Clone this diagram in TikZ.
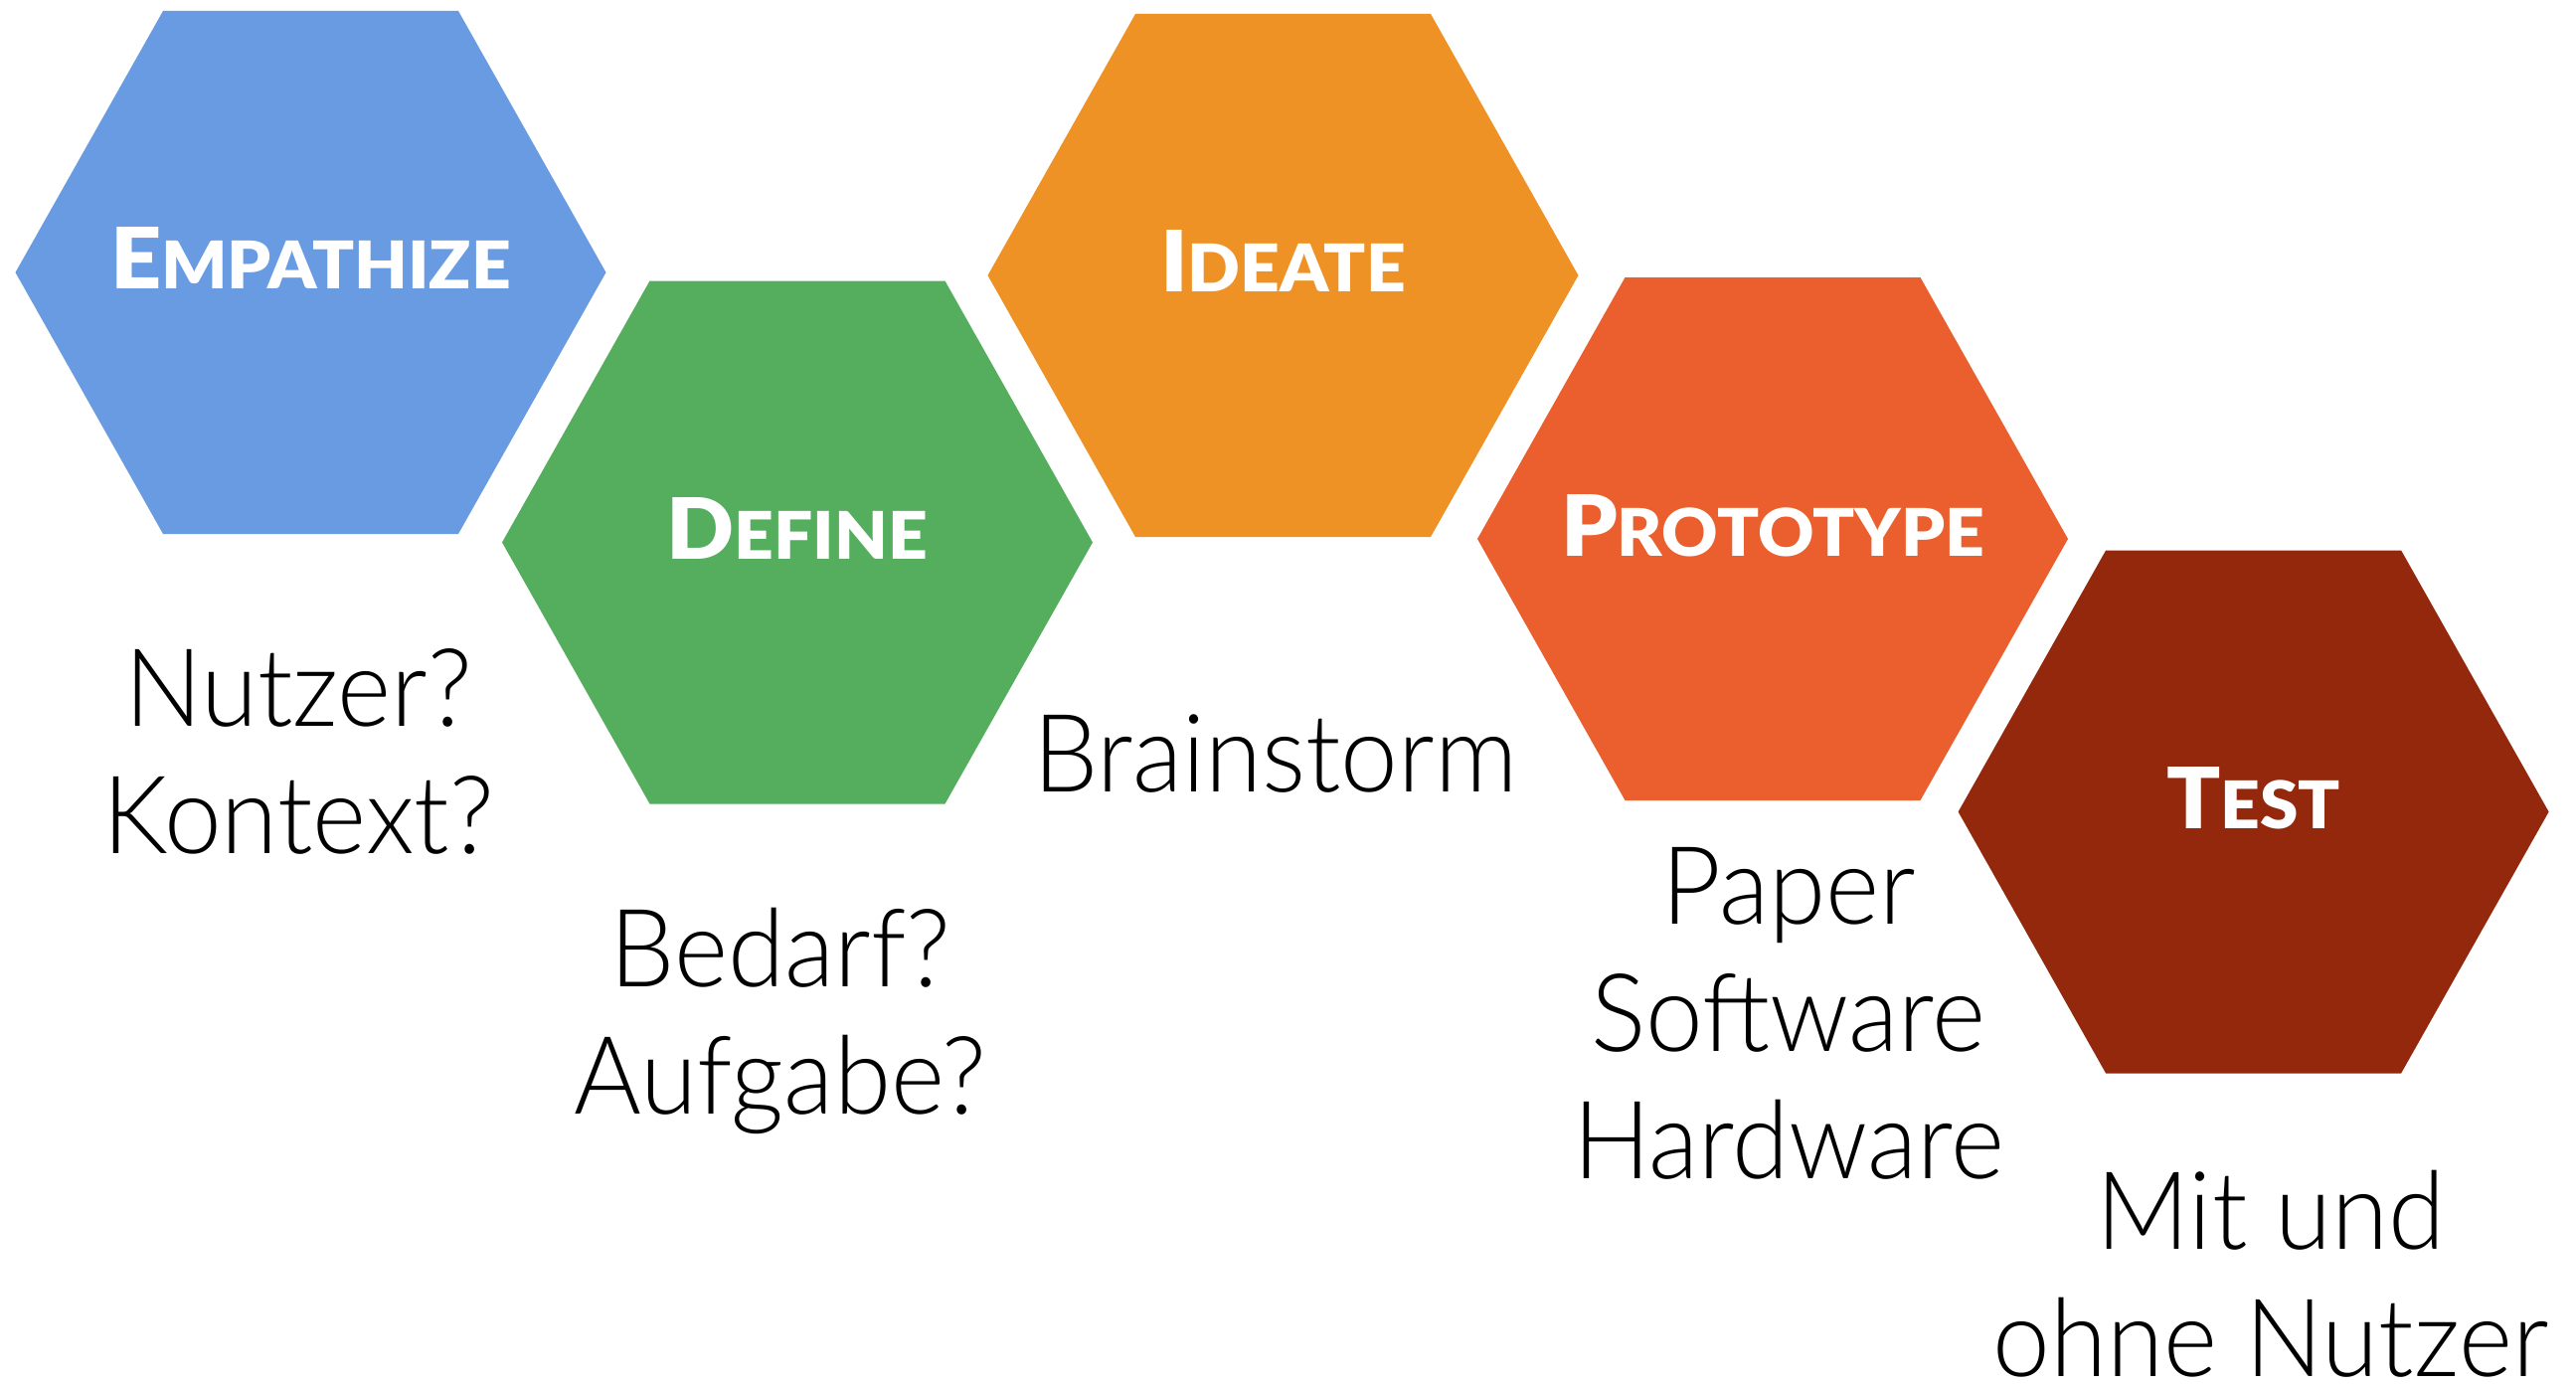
\documentclass[tikz,border=0pt]{standalone}
\usepackage{fontspec}
\newfontfamily\titlefont[FakeStretch=1.05]{Lato Black}
\newfontfamily\bodyfont[FakeStretch=0.95]{Lato Light}
\definecolor{empblue}{HTML}{699BE3}
\definecolor{defgreen}{HTML}{55AD5E}
\definecolor{ideorange}{HTML}{EF9226}
\definecolor{protored}{HTML}{EA5F2D}
\definecolor{testred}{HTML}{93280D}
% big first letter, smaller caps after it
\newcommand{\capword}[2]{{\fontsize{24.2}{29}\selectfont #1}{\fontsize{18.8}{22}\selectfont #2}}

\begin{document}
\begin{tikzpicture}[x=0.01cm, y=-0.01cm,
  title/.style={text=white, font=\titlefont, anchor=base, inner sep=0pt},
  body/.style={font=\bodyfont\fontsize{31}{36.4}\selectfont, align=center, anchor=base, inner sep=0pt}]
  \useasboundingbox (0,0) rectangle (2591,1394);
  % the five hexagons
  \foreach \cx/\cy/\col in {312.5/274/empblue, 802/545.5/defgreen, 1290.5/277/ideorange, 1783/542/protored, 2266.6/816.5/testred}
    \fill[\col] (\cx-297,\cy) -- (\cx-148.5,\cy-263) -- (\cx+148.5,\cy-263) -- (\cx+297,\cy)
      -- (\cx+148.5,\cy+263) -- (\cx-148.5,\cy+263) -- cycle;
  \node[title] (empathize) at (312.5,290.7) {\capword{E}{MPATHIZE}};
  \node[title] (define) at (802,562) {\capword{D}{EFINE}};
  \node[title] (ideate) at (1290.5,294) {\capword{I}{DEATE}};
  \node[title] (prototype) at (1783,559.3) {\capword{P}{ROTOTYPE}};
  \node[title] (test) at (2266.6,833.5) {\capword{T}{EST}};
  % questions and methods under the hexagons (base = last line)
  \node[body] (nutzer) at (300,858) {Nutzer?\\Kontext?};
  \node[body] (bedarf) at (785,1120) {Bedarf?\\Aufgabe?};
  \node[body] (brainstorm) at (1283,796.7) {Brainstorm};
  \node[body] (paper) at (1799,1185) {Paper\\Software\\Hardware};
  \node[body, text depth=0pt] (mitund) at (2284,1384) {Mit und\\ohne Nutzer};
\end{tikzpicture}
\end{document}
